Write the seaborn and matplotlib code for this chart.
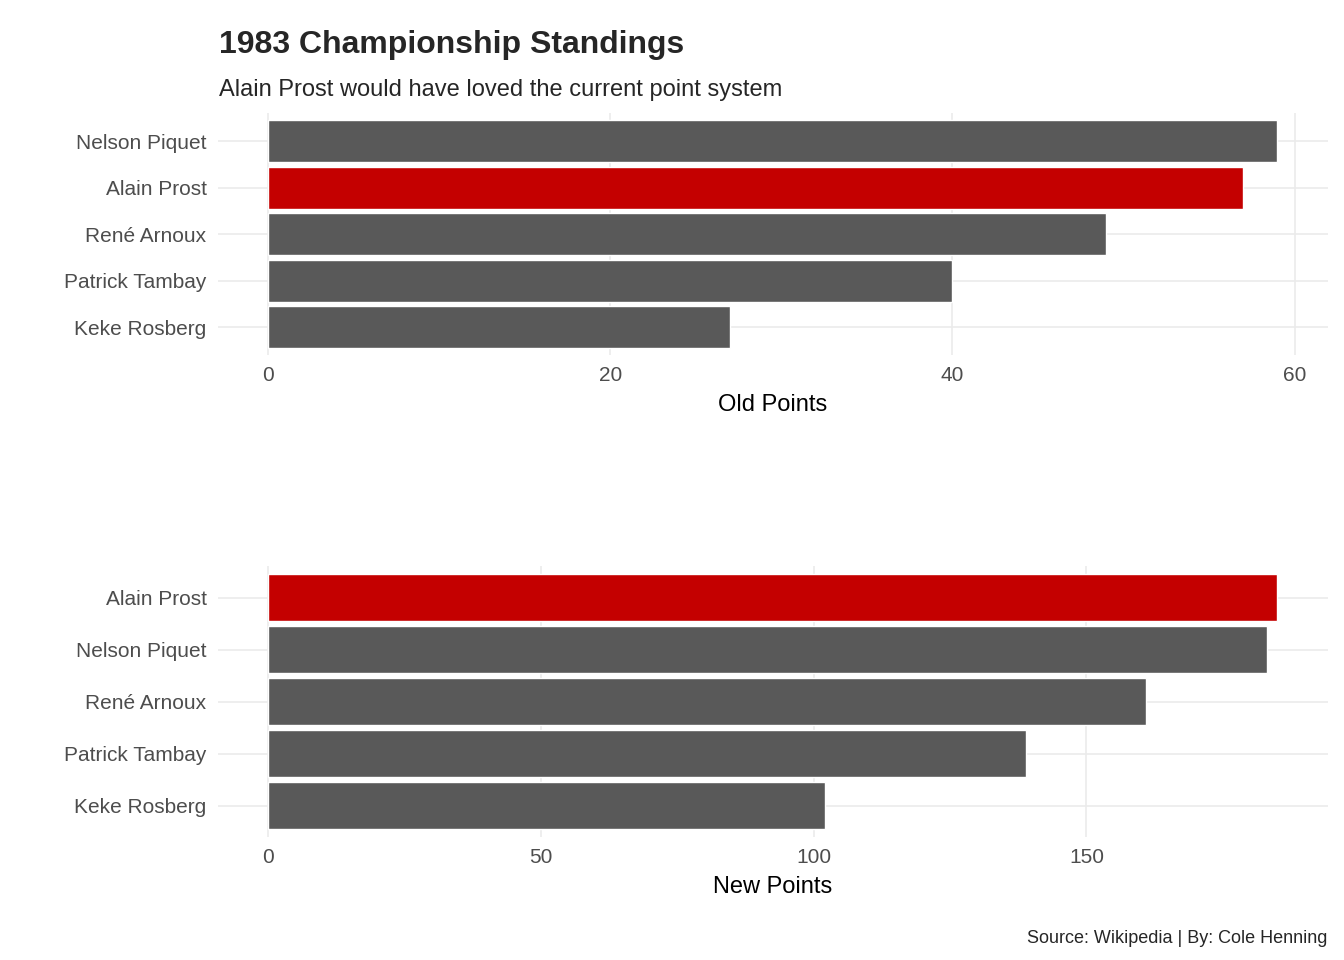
import matplotlib
matplotlib.use("Agg")
import matplotlib.pyplot as plt
import seaborn as sns
import pandas as pd

sns.set_theme(style="whitegrid")
plt.rcParams['font.family'] = ['Liberation Sans', 'DejaVu Sans']

old_drivers = ["Nelson Piquet", "Alain Prost", "René Arnoux", "Patrick Tambay", "Keke Rosberg"]
old_points = [59, 57, 49, 40, 27]
new_drivers = ["Alain Prost", "Nelson Piquet", "René Arnoux", "Patrick Tambay", "Keke Rosberg"]
new_points = [185, 183, 161, 139, 102]

GRAY = "#595959"
RED = "#C40000"

fig = plt.figure(figsize=(13.44, 9.6), dpi=100)
ax1 = fig.add_axes([0.162, 0.630, 0.826, 0.252])
ax2 = fig.add_axes([0.162, 0.128, 0.826, 0.282])

def panel(ax, drivers, points, xlabel, ticks):
    df = pd.DataFrame({"driver": drivers, "points": points})
    pal = [RED if d == "Alain Prost" else GRAY for d in drivers]
    sns.barplot(data=df, x="points", y="driver", hue="driver", palette=pal,
                width=0.9, legend=False, ax=ax, saturation=1)
    m = max(points)
    ax.set_xlim(-0.05 * m, 1.05 * m)
    ax.set_ylim(4.6, -0.6)
    ax.set_xticks(ticks)
    ax.set_xlabel(xlabel, fontsize=17, color="black", labelpad=6)
    ax.set_ylabel("")
    ax.tick_params(axis="both", length=0, labelsize=15, labelcolor="#4d4d4d", pad=8)
    for s in ax.spines.values():
        s.set_visible(False)
    ax.grid(True, color="#ebebeb", linewidth=1.2)
    ax.set_axisbelow(True)

panel(ax1, old_drivers, old_points, "Old Points", [0, 20, 40, 60])
panel(ax2, new_drivers, new_points, "New Points", [0, 50, 100, 150])

fig.text(0.163, 0.945, "1983 Championship Standings", fontsize=23, fontweight="bold")
fig.text(0.163, 0.9, "Alain Prost would have loved the current point system", fontsize=17)
fig.text(0.988, 0.018, "Source: Wikipedia | By: Cole Henning", fontsize=13, ha="right")

fig.savefig("out.png", dpi=100)
